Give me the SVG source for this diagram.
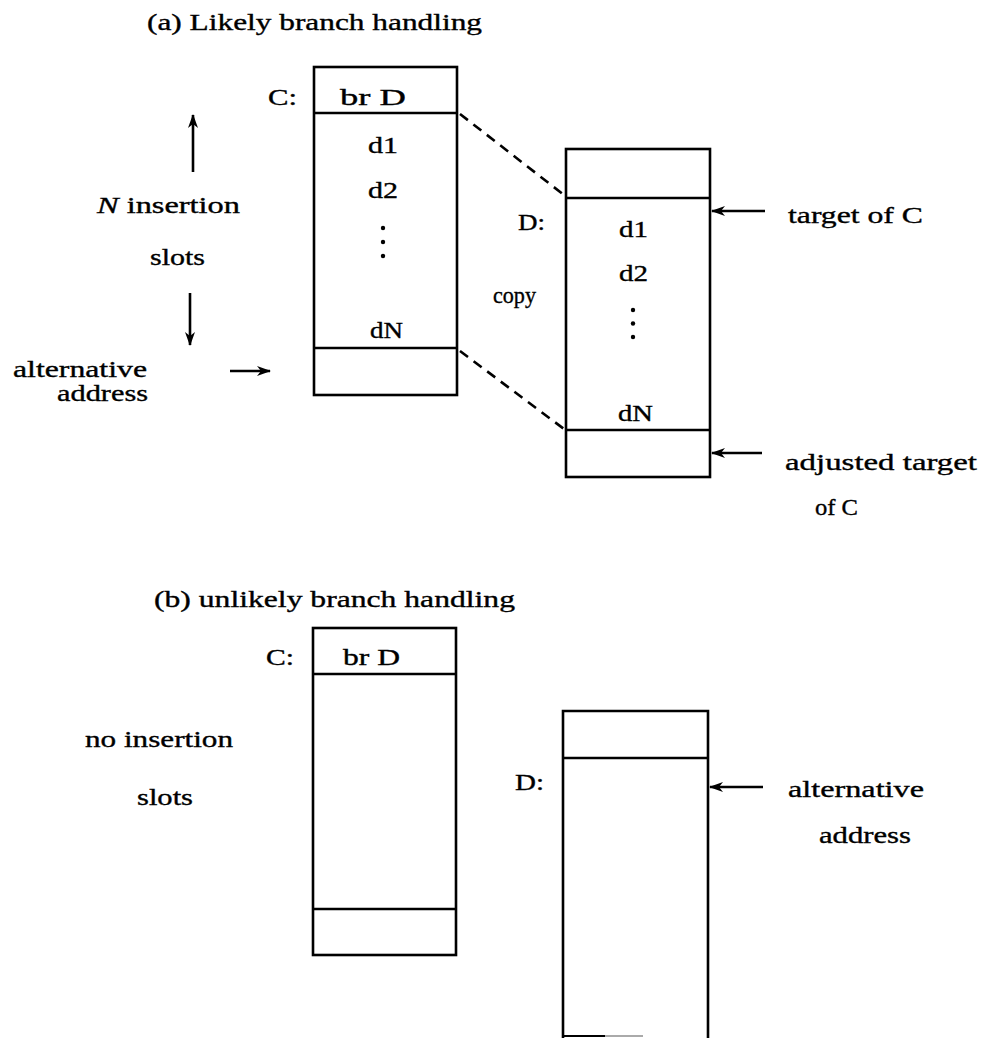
<svg xmlns="http://www.w3.org/2000/svg" width="983" height="1038" viewBox="0 0 983 1038">
<style>
  text { font-family: "Liberation Serif", "DejaVu Serif", serif; font-size: 23px; fill: #000; stroke: #000; stroke-width: 0.35; }
  .box { fill: none; stroke: #000; stroke-width: 2.6; }
  .div { stroke: #000; stroke-width: 2.6; }
  .arr { stroke: #000; stroke-width: 2.6; fill: none; marker-end: url(#ah); }
  .dash { stroke: #000; stroke-width: 2.6; stroke-dasharray: 10 7; fill: none; }
  .dot { fill: #000; }
</style>
<defs>
  <marker id="ah" viewBox="0 0 14 10" refX="13" refY="5" markerWidth="15" markerHeight="10" markerUnits="userSpaceOnUse" orient="auto">
    <path d="M0,0 L14,5 L0,10 L4,5 Z" fill="#000"/>
  </marker>
</defs>
<rect width="983" height="1038" fill="#fff"/>

<!-- (a) -->
<g id="title-a"><text x="147" y="30" textLength="335" lengthAdjust="spacingAndGlyphs">(a) Likely branch handling</text></g>

<g id="boxC-a">
  <rect class="box" x="314" y="67" width="143" height="328"/>
  <line class="div" x1="314" y1="113" x2="457" y2="113"/>
  <line class="div" x1="314" y1="348" x2="457" y2="348"/>
  <text x="268" y="105" textLength="29" lengthAdjust="spacingAndGlyphs">C:</text>
  <text x="340" y="105" textLength="66" lengthAdjust="spacingAndGlyphs">br D</text>
  <text x="368" y="153" textLength="30" lengthAdjust="spacingAndGlyphs">d1</text>
  <text x="368" y="198" textLength="30" lengthAdjust="spacingAndGlyphs">d2</text>
  <circle class="dot" cx="383" cy="228" r="2.2"/>
  <circle class="dot" cx="383" cy="242" r="2.2"/>
  <circle class="dot" cx="383" cy="256" r="2.2"/>
  <text x="370" y="338" textLength="33" lengthAdjust="spacingAndGlyphs">dN</text>
</g>

<g id="boxD-a">
  <rect class="box" x="566" y="149" width="144" height="328"/>
  <line class="div" x1="566" y1="198" x2="710" y2="198"/>
  <line class="div" x1="566" y1="430" x2="710" y2="430"/>
  <text x="518" y="230" textLength="27" lengthAdjust="spacingAndGlyphs">D:</text>
  <text x="619" y="237" textLength="29" lengthAdjust="spacingAndGlyphs">d1</text>
  <text x="619" y="281" textLength="29" lengthAdjust="spacingAndGlyphs">d2</text>
  <circle class="dot" cx="633" cy="310" r="2.2"/>
  <circle class="dot" cx="633" cy="323.5" r="2.2"/>
  <circle class="dot" cx="633" cy="337" r="2.2"/>
  <text x="618" y="421" textLength="35" lengthAdjust="spacingAndGlyphs">dN</text>
</g>

<g id="labels-a">
  <text x="97" y="213" textLength="143" lengthAdjust="spacingAndGlyphs"><tspan font-style="italic">N</tspan> insertion</text>
  <text x="150" y="265" textLength="55" lengthAdjust="spacingAndGlyphs">slots</text>
  <text x="13" y="377" textLength="134" lengthAdjust="spacingAndGlyphs">alternative</text>
  <text x="57" y="401" textLength="91" lengthAdjust="spacingAndGlyphs">address</text>
  <text x="493" y="303" textLength="43" lengthAdjust="spacingAndGlyphs">copy</text>
  <text x="788" y="223" textLength="135" lengthAdjust="spacingAndGlyphs">target of C</text>
  <text x="785" y="470" textLength="192" lengthAdjust="spacingAndGlyphs">adjusted target</text>
  <text x="815" y="515" textLength="43" lengthAdjust="spacingAndGlyphs">of C</text>
</g>

<!-- (b) -->
<g id="title-b"><text x="154" y="607" textLength="361" lengthAdjust="spacingAndGlyphs">(b) unlikely branch handling</text></g>

<g id="boxC-b">
  <rect class="box" x="313" y="628" width="143" height="327"/>
  <line class="div" x1="313" y1="674" x2="456" y2="674"/>
  <line class="div" x1="313" y1="909" x2="456" y2="909"/>
  <text x="266" y="665" textLength="28" lengthAdjust="spacingAndGlyphs">C:</text>
  <text x="343" y="665" textLength="57" lengthAdjust="spacingAndGlyphs">br D</text>
</g>

<g id="boxD-b">
  <path class="box" d="M563,1038 V711 H708 V1038"/>
  <line class="div" x1="563" y1="758" x2="708" y2="758"/>
  <line x1="563" y1="1036" x2="605" y2="1036" stroke="#000" stroke-width="2"/>
  <line x1="605" y1="1036" x2="643" y2="1036" stroke="#aaa" stroke-width="2"/>
  <text x="515" y="790" textLength="29" lengthAdjust="spacingAndGlyphs">D:</text>
</g>

<g id="labels-b">
  <text x="85" y="747" textLength="148" lengthAdjust="spacingAndGlyphs">no insertion</text>
  <text x="137" y="805" textLength="56" lengthAdjust="spacingAndGlyphs">slots</text>
  <text x="788" y="797" textLength="136" lengthAdjust="spacingAndGlyphs">alternative</text>
  <text x="819" y="843" textLength="92" lengthAdjust="spacingAndGlyphs">address</text>
</g>

<g id="connectors">
  <line class="arr" x1="193" y1="172" x2="193" y2="115"/>
  <line class="arr" x1="190" y1="293" x2="190" y2="345"/>
  <line class="arr" x1="230" y1="371" x2="270" y2="371"/>
  <line class="arr" x1="765" y1="211" x2="712" y2="211"/>
  <line class="arr" x1="762" y1="453" x2="712" y2="453"/>
  <line class="arr" x1="763" y1="787" x2="710" y2="787"/>
  <line class="dash" x1="460" y1="114" x2="564" y2="195"/>
  <line class="dash" x1="460" y1="351" x2="564" y2="429"/>
</g>
</svg>
